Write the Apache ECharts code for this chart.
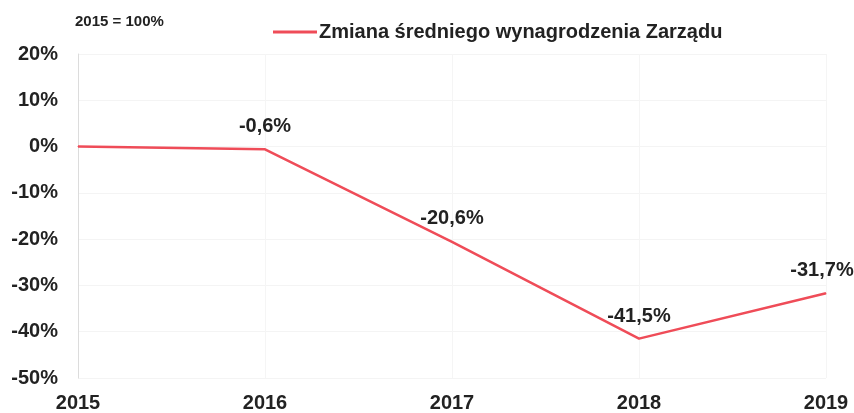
<!DOCTYPE html>
<html>
<head>
<meta charset="utf-8">
<script src="https://cdn.jsdelivr.net/npm/echarts@6/dist/echarts.min.js"></script>
<style>
  html, body { margin: 0; padding: 0; background: #fff; }
  #main { width: 854px; height: 413px; }
</style>
</head>
<body>
<div id="main"></div>
<script>
const years = ['2015', '2016', '2017', '2018', '2019'];
const change = [0, -0.6, -20.6, -41.5, -31.7];
const seriesName = 'Zmiana średniego wynagrodzenia Zarządu';
const baseNote = '2015 = 100%';

const fmt = v => (v === 0 ? '0' : String(v).replace('.', ',')) + '%';

let myChart = echarts.init(document.getElementById('main'));

myChart.setOption({
  animation: false,
  textStyle: { fontFamily: 'Liberation Sans, Arial, sans-serif' },
  title: {
    text: baseNote,
    left: 70, top: 9,
    textStyle: { fontSize: 15, fontWeight: 'bold', color: '#222' }
  },
  legend: {
    left: 268, top: 17,
    itemWidth: 44, itemHeight: 3, itemGap: 6,
    icon: 'rect',
    textStyle: { fontSize: 20, fontWeight: 'bold', color: '#222', padding: [0, 0, 0, -3] }
  },
  grid: { left: 78, right: 28, top: 54, bottom: 31 },
  xAxis: {
    type: 'category',
    data: years,
    boundaryGap: false,
    axisLine: { show: false },
    axisTick: { show: false },
    axisLabel: { fontSize: 20, fontWeight: 'bold', color: '#222', margin: 15 },
    splitLine: { show: true, lineStyle: { color: '#f5f5f5' } }
  },
  yAxis: {
    type: 'value',
    min: -50, max: 20, interval: 10,
    axisLine: { show: true, lineStyle: { color: '#dcdcdc' } },
    axisTick: { show: false },
    axisLabel: { fontSize: 20, fontWeight: 'bold', color: '#222', margin: 20, formatter: v => v + '%' },
    splitLine: { lineStyle: { color: '#f4f4f4' } }
  },
  series: [{
    name: seriesName,
    type: 'line',
    data: change,
    symbol: 'circle',
    symbolSize: 1,
    showAllSymbol: true,
    lineStyle: { color: '#ef4c58', width: 2.5 },
    itemStyle: { color: '#ef4c58' },
    label: {
      show: true,
      position: 'top',
      distance: 12,
      fontSize: 20,
      fontWeight: 'bold',
      color: '#222',
      formatter: p => p.dataIndex === 0 ? '' : fmt(p.value)
    },
    labelLayout: p => {
      if (p.dataIndex === 4) return { dx: -4, dy: 0 };
      if (p.dataIndex === 2) return { dy: -1 };
      return {};
    }
  }]
});

window.onresize = function () {
  myChart.resize();
}
</script>
</body>
</html>
